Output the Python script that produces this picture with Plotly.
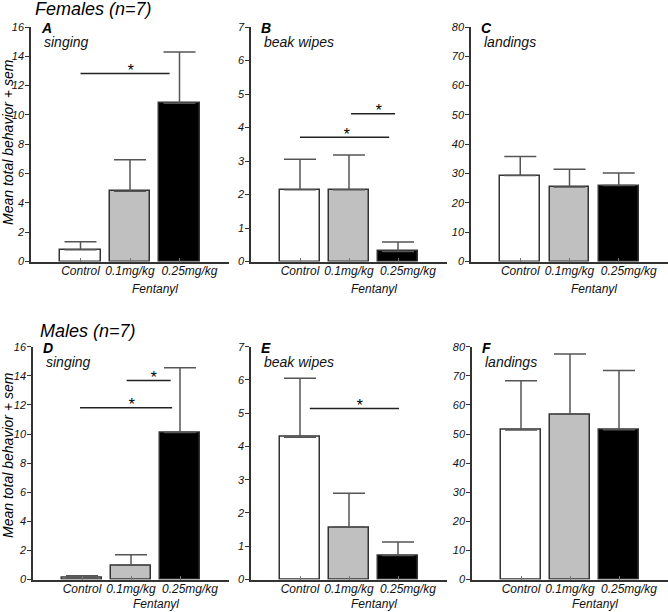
import plotly.graph_objects as go

categories = ["Control", "0.1mg/kg", "0.25mg/kg"]
xpos = [0, 1, 2]

fem_singing = [0.8, 4.8, 10.8]
fem_singing_sem = [0.55, 2.15, 3.5]
fem_beak = [2.14, 2.14, 0.30]
fem_beak_sem = [0.91, 1.04, 0.28]
fem_land = [29.3, 25.4, 25.9]
fem_land_sem = [6.5, 6.1, 4.3]

male_singing = [0.12, 0.98, 10.1]
male_singing_sem = [0.13, 0.72, 4.45]
male_beak = [4.28, 1.57, 0.72]
male_beak_sem = [1.77, 1.02, 0.41]
male_land = [51.4, 56.8, 51.5]
male_land_sem = [16.9, 20.7, 20.3]

bar_colors = ["#ffffff", "#c0c0c0", "#000000"]

W, H = 668, 612
FONT = "Liberation Sans, Arial, sans-serif"

# tick labels: last one nudged right (as in the original figure) with non-breaking spaces
ticktext = [categories[0], categories[1], "\u00a0" * 6 + categories[2]]

# panel: (letter, label, values, sem, ymax, dtick, xdomain px, ydomain px(top,bottom), fentanyl offset)
panels = [
    ("A", "singing", fem_singing, fem_singing_sem, 16, 2, (31, 229), (27, 261.5), 27),
    ("B", "beak wipes", fem_beak, fem_beak_sem, 7, 1, (251, 447), (27, 261.5), 27),
    ("C", "landings", fem_land, fem_land_sem, 80, 10, (471, 668), (27, 261.5), 27),
    ("D", "singing", male_singing, male_singing_sem, 16, 2, (33, 229), (346.7, 579.5), 24),
    ("E", "beak wipes", male_beak, male_beak_sem, 7, 1, (251, 447), (346.7, 579.5), 24),
    ("F", "landings", male_land, male_land_sem, 80, 10, (472, 668), (346.7, 579.5), 24),
]

# significance: panel index, x0, x1, y, star x
sig_lines = [
    (0, 0.0, 1.8, 12.83, 1.0),
    (1, 0.0, 1.82, 3.71, 0.95),
    (1, 1.04, 1.94, 4.41, 1.61),
    (3, 0.91, 1.81, 13.67, 1.45),
    (3, -0.04, 1.84, 11.8, 1.01),
    (4, 0.2, 2.02, 5.14, 1.22),
]

fig = go.Figure()
shapes = []
annotations = []

for i, (letter, label, vals, sem, ymax, dt, (x0p, x1p), (ytp, ybp), foff) in enumerate(panels):
    n = "" if i == 0 else str(i + 1)
    xa, ya = "x" + n, "y" + n
    fig.add_trace(go.Bar(
        x=xpos, y=vals, width=0.81,
        marker=dict(color=bar_colors, line=dict(color="#333333", width=1.5)),
        error_y=dict(type="data", array=sem, arrayminus=[0, 0, 0], symmetric=False,
                     color="#555555", thickness=1.5, width=16),
        xaxis=xa, yaxis=ya, showlegend=False, hoverinfo="skip",
    ))
    xdom = [x0p / W, min(x1p / W, 1.0)]
    ydom = [(H - ybp) / H, (H - ytp) / H]
    fig.layout["xaxis" + n] = dict(
        domain=xdom, range=[-1, 3], anchor=ya, tickvals=xpos, ticktext=ticktext,
        tickangle=0, automargin=False, ticklabelstandoff=-3,
        ticks="inside", ticklen=4, tickcolor="#777777", showline=True, linecolor="#333333",
        linewidth=1.5, showgrid=False, zeroline=False,
        tickfont=dict(family=FONT, size=12, color="#111111", style="italic"),
    )
    fig.layout["yaxis" + n] = dict(
        domain=ydom, range=[0, ymax], anchor=xa, dtick=dt, tick0=0, automargin=False,
        ticks="outside", ticklen=4, tickcolor="#333333", showline=True, linecolor="#333333",
        linewidth=1.5, showgrid=False, zeroline=False, ticklabelstandoff=-1,
        tickfont=dict(family=FONT, size=11, color="#111111", style="italic"),
    )
    # panel letter
    annotations.append(dict(
        text="<b>" + letter + "</b>", x=x0p + 8, y=H - ytp - 1, xref="paper", yref="paper",
        xanchor="left", yanchor="middle", showarrow=False,
        font=dict(family=FONT, size=14, color="#000", style="italic"),
    ))
    annotations.append(dict(
        text=label, x=x0p + 11, y=H - ytp - 15, xref="paper", yref="paper",
        xanchor="left", yanchor="middle", showarrow=False,
        font=dict(family=FONT, size=14, color="#111", style="italic"),
    ))
    annotations.append(dict(
        text="Fentanyl", x=1.5, y=H - ybp - foff, xref=xa, yref="paper",
        xanchor="center", yanchor="middle", showarrow=False,
        font=dict(family=FONT, size=12, color="#111", style="italic"),
    ))

for (pi, sx0, sx1, sy, starx) in sig_lines:
    n = "" if pi == 0 else str(pi + 1)
    shapes.append(dict(type="line", xref="x" + n, yref="y" + n, x0=sx0, x1=sx1, y0=sy, y1=sy,
                       line=dict(color="#222222", width=1.5)))
    annotations.append(dict(text="*", x=starx, y=sy, xref="x" + n, yref="y" + n,
                            xanchor="center", yanchor="middle", yshift=3, showarrow=False,
                            font=dict(family=FONT, size=16, color="#000", style="italic")))

annotations.append(dict(text="Females (n=7)", x=33, y=H - 9.5, xref="paper", yref="paper",
                        xanchor="left", yanchor="middle", showarrow=False,
                        font=dict(family=FONT, size=18, color="#000", style="italic")))
annotations.append(dict(text="Males (n=7)", x=38, y=H - 331, xref="paper", yref="paper",
                        xanchor="left", yanchor="middle", showarrow=False,
                        font=dict(family=FONT, size=18, color="#000", style="italic")))
for yc in (142, 455):
    annotations.append(dict(text="Mean total behavior + sem", x=8, y=H - yc, xref="paper",
                            yref="paper", xanchor="center", yanchor="middle", textangle=-90,
                            showarrow=False,
                            font=dict(family=FONT, size=14, color="#000", style="italic")))

# convert pixel paper coords to fractions
for a in annotations:
    if a["xref"] == "paper":
        a["x"] = a["x"] / W
    if a["yref"] == "paper":
        a["y"] = a["y"] / H

fig.update_layout(
    width=W, height=H, margin=dict(l=0, r=0, t=0, b=0),
    paper_bgcolor="white", plot_bgcolor="white",
    shapes=shapes, annotations=annotations, bargap=0,
)

fig.write_html("out.html", config={"displayModeBar": False},
               post_script="document.body.style.margin='0';")
